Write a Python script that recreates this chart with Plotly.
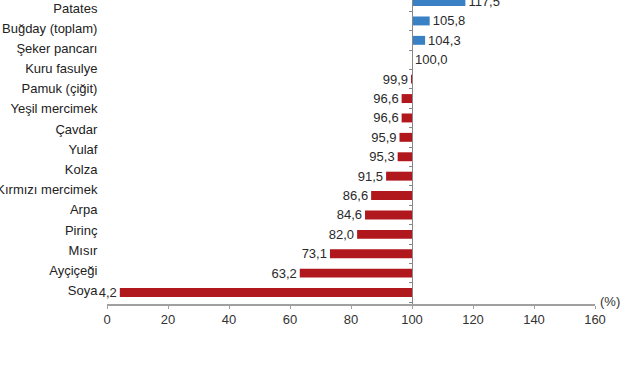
import plotly.graph_objects as go

# Row labels as printed on the left (bottom to top) - the picture shows 15 labels
categories = ["Soya", "Ayçiçeği", "Mısır", "Pirinç", "Arpa", "Kırmızı mercimek", "Kolza",
              "Yulaf", "Çavdar", "Yeşil mercimek", "Pamuk (çiğit)", "Kuru fasulye",
              "Şeker pancarı", "Buğday (toplam)", "Patates"]
# Bar values (bottom to top) - the picture shows 16 bars / value labels
values = [4.2, 63.2, 73.1, 82.0, 84.6, 86.6, 91.5, 95.3, 95.9, 96.6, 96.6, 99.9,
          100.0, 104.3, 105.8, 117.5]
base_value = 100
x_ticks = [0, 20, 40, 60, 80, 100, 120, 140, 160]

RED = "#B0181D"
BLUE = "#3A80C4"

colors = [BLUE if v > base_value else RED for v in values]
labels = [f"{v:.1f}".replace(".", ",") for v in values]
bar_rows = list(range(len(values)))

fig = go.Figure()
# invisible trace carrying the left-hand category labels
fig.add_trace(go.Scatter(
    y=categories, x=[0] * len(categories), mode="markers",
    marker=dict(opacity=0), yaxis="y", hoverinfo="skip", showlegend=False,
))
fig.add_trace(go.Bar(
    y=bar_rows, x=[v - base_value for v in values], base=base_value,
    orientation="h", marker=dict(color=colors, line=dict(width=0)),
    width=0.46, text=labels, textposition="outside", constraintext="none",
    textfont=dict(family="Liberation Sans, Arial", size=13, color="#2a2a2a"),
    cliponaxis=False, hoverinfo="skip", yaxis="y2",
))

fig.update_layout(
    width=641, height=380,
    margin=dict(l=107, r=46, t=0, b=76, autoexpand=False),
    paper_bgcolor="white", plot_bgcolor="white",
    showlegend=False,
    font=dict(family="Liberation Sans, Arial", size=12, color="#222222"),
    xaxis=dict(range=[0, 160], tickvals=x_ticks, showgrid=False, zeroline=False,
               showline=True, linecolor="#a0a0a0", linewidth=1.5,
               ticks="outside", ticklen=3, tickcolor="#a0a0a0", ticklabelstandoff=0,
               tickfont=dict(size=13, color="#333333"), automargin=False),
    yaxis=dict(type="category", range=[-0.67, 14.4], autorange=False,
               showgrid=False, zeroline=False, showline=False, automargin=False,
               ticks="outside", ticklen=6, tickcolor="rgba(0,0,0,0)",
               tickfont=dict(size=13, color="#222222"),
               categoryorder="array", categoryarray=categories),
    yaxis2=dict(overlaying="y", range=[-0.59, 15.08], autorange=False, anchor="free",
                position=0.625, showgrid=False, zeroline=False, showline=True,
                linecolor="#888888", linewidth=1, showticklabels=False, automargin=False,
                ticks="outside", ticklen=3, tickcolor="#888888",
                tickmode="linear", tick0=0.5, dtick=1),
    annotations=[dict(text="(%)", x=1.0, xref="paper", xanchor="left", xshift=3,
                      y=0, yref="paper", yanchor="middle", yshift=3, showarrow=False,
                      font=dict(size=13, color="#333333"))],
)

fig.write_html("out.html", config={"displayModeBar": False},
               post_script="document.body.style.margin='0';")
